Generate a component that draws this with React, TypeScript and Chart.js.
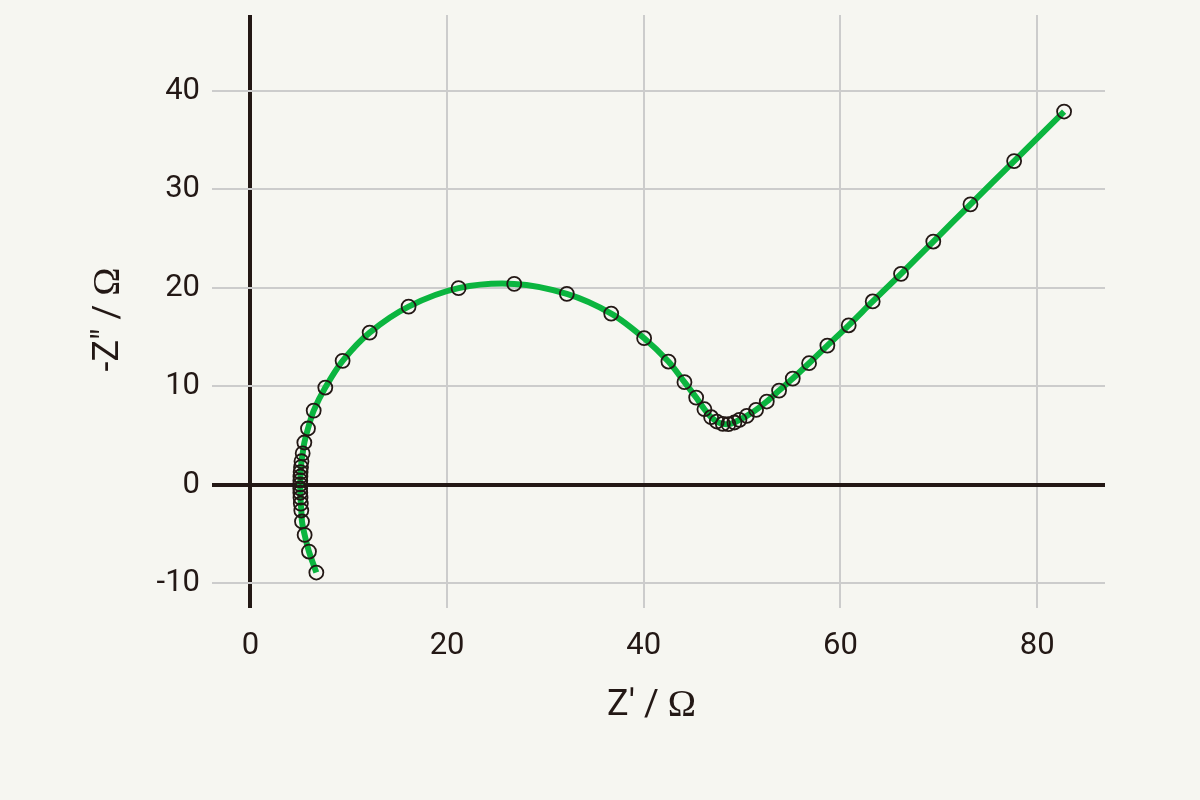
import React, { useEffect, useRef } from "react";
import { Chart, registerables } from "chart.js";

Chart.register(...registerables);

const zReal: number[] = [
  6.71, 5.96, 5.52, 5.25, 5.18, 5.13, 5.1, 5.08, 5.07, 5.07, 5.08, 5.09, 5.11, 5.15, 5.2, 5.32,
  5.49, 5.86, 6.44, 7.62, 9.38, 12.13, 16.09, 21.17, 26.83, 32.18, 36.69, 40.04, 42.51, 44.14,
  45.33, 46.17, 46.85, 47.43, 48.04, 48.61, 49.22, 49.73, 50.48, 51.42, 52.51, 53.76, 55.15,
  56.81, 58.67, 60.84, 63.28, 66.16, 69.44, 73.22, 77.66, 82.74,
];
const zImagNeg: number[] = [
  -8.9, -6.77, -5.08, -3.72, -2.6, -1.9, -1.3, -0.8, -0.35, 0.05, 0.45, 0.85, 1.3, 1.8, 2.4, 3.2,
  4.3, 5.72, 7.54, 9.88, 12.59, 15.46, 18.1, 19.97, 20.4, 19.39, 17.39, 14.89, 12.52, 10.43,
  8.86, 7.68, 6.87, 6.43, 6.19, 6.16, 6.33, 6.6, 7.0, 7.61, 8.46, 9.57, 10.79, 12.35, 14.14,
  16.2, 18.62, 21.42, 24.7, 28.48, 32.87, 37.9,
];
const xTicks: number[] = [0, 20, 40, 60, 80];
const yTicks: number[] = [-10, 0, 10, 20, 30, 40];
// axis titles: [text part, unit symbol]
const xTitleParts: string[] = ["Z' / ", "\u03A9"];
const yTitleParts: string[] = ['-Z" / ', "\u03A9"];

const BG = "#f6f6f1";
const INK = "#231815";
const GRID = "#cccccc";
const GREEN = "#0bb53f";
const TITLE_SANS = "36px Roboto";
const TITLE_SERIF = "38px 'Liberation Serif'";

function drawMixedTitle(ctx: CanvasRenderingContext2D, parts: string[], cx: number, cy: number, rot: number) {
  ctx.save();
  ctx.translate(cx, cy);
  ctx.rotate(rot);
  ctx.fillStyle = INK;
  ctx.textBaseline = "middle";
  ctx.textAlign = "left";
  ctx.font = TITLE_SANS;
  const w1 = ctx.measureText(parts[0]).width;
  ctx.font = TITLE_SERIF;
  const w2 = ctx.measureText(parts[1]).width;
  let x = -(w1 + w2) / 2;
  ctx.font = TITLE_SANS;
  ctx.fillText(parts[0], x, 0);
  x += w1;
  ctx.font = TITLE_SERIF;
  ctx.fillText(parts[1], x, 0);
  ctx.restore();
}

const titlePlugin = {
  id: "mixedAxisTitles",
  afterDraw(chart: any) {
    const ctx = chart.ctx as CanvasRenderingContext2D;
    const area = chart.chartArea;
    drawMixedTitle(ctx, xTitleParts, (area.left + area.right) / 2 - 7, 706, 0);
    drawMixedTitle(ctx, yTitleParts, 109, (area.top + area.bottom) / 2 + 8, -Math.PI / 2);
  },
};

export default function App() {
  const ref = useRef<HTMLCanvasElement | null>(null);

  useEffect(() => {
    if (!ref.current) return;
    const points = zReal.map((x, i) => ({ x, y: zImagNeg[i] }));
    const gridColor = (ctx: any) => (ctx.tick && ctx.tick.value === 0 ? INK : GRID);
    const gridWidth = (ctx: any) => (ctx.tick && ctx.tick.value === 0 ? 4 : 2);
    const chart = new Chart(ref.current, {
      type: "scatter",
      data: {
        datasets: [
          {
            data: points,
            showLine: true,
            borderColor: GREEN,
            borderWidth: 6,
            tension: 0.3,
            pointRadius: 7,
            pointBorderWidth: 1.8,
            pointBorderColor: INK,
            pointBackgroundColor: "rgba(0,0,0,0)",
            pointHoverRadius: 7,
          } as any,
        ],
      },
      plugins: [titlePlugin],
      options: {
        animation: false,
        responsive: false,
        maintainAspectRatio: false,
        layout: { padding: { top: 15, right: 95, left: 0, bottom: 0 } },
        plugins: { legend: { display: false }, tooltip: { enabled: false } },
        scales: {
          x: {
            type: "linear",
            min: -3.9,
            max: 86.9,
            afterBuildTicks: (axis: any) => {
              axis.ticks = xTicks.map((v) => ({ value: v }));
            },
            afterFit: (axis: any) => {
              axis.height = 192;
              axis.paddingLeft = 0;
              axis.paddingRight = 0;
            },
            border: { display: false },
            grid: { color: gridColor, lineWidth: gridWidth, drawTicks: false },
            ticks: {
              color: INK,
              padding: 20,
              font: { family: "Roboto", size: 31 },
            },
          },
          y: {
            type: "linear",
            min: -12.5,
            max: 47.7,
            afterBuildTicks: (axis: any) => {
              axis.ticks = yTicks.map((v) => ({ value: v }));
            },
            afterFit: (axis: any) => {
              axis.width = 212;
              axis.paddingTop = 0;
              axis.paddingBottom = 0;
            },
            border: { display: false },
            grid: { color: gridColor, lineWidth: gridWidth, drawTicks: false },
            ticks: {
              color: INK,
              padding: 12,
              font: { family: "Roboto", size: 31 },
            },
          },
        },
      },
    });
    return () => chart.destroy();
  }, []);

  return (
    <div style={{ position: "fixed", left: 0, top: 0, width: 1200, height: 800, background: BG }}>
      <canvas ref={ref} width={1200} height={800} style={{ width: 1200, height: 800, display: "block" }} />
    </div>
  );
}
